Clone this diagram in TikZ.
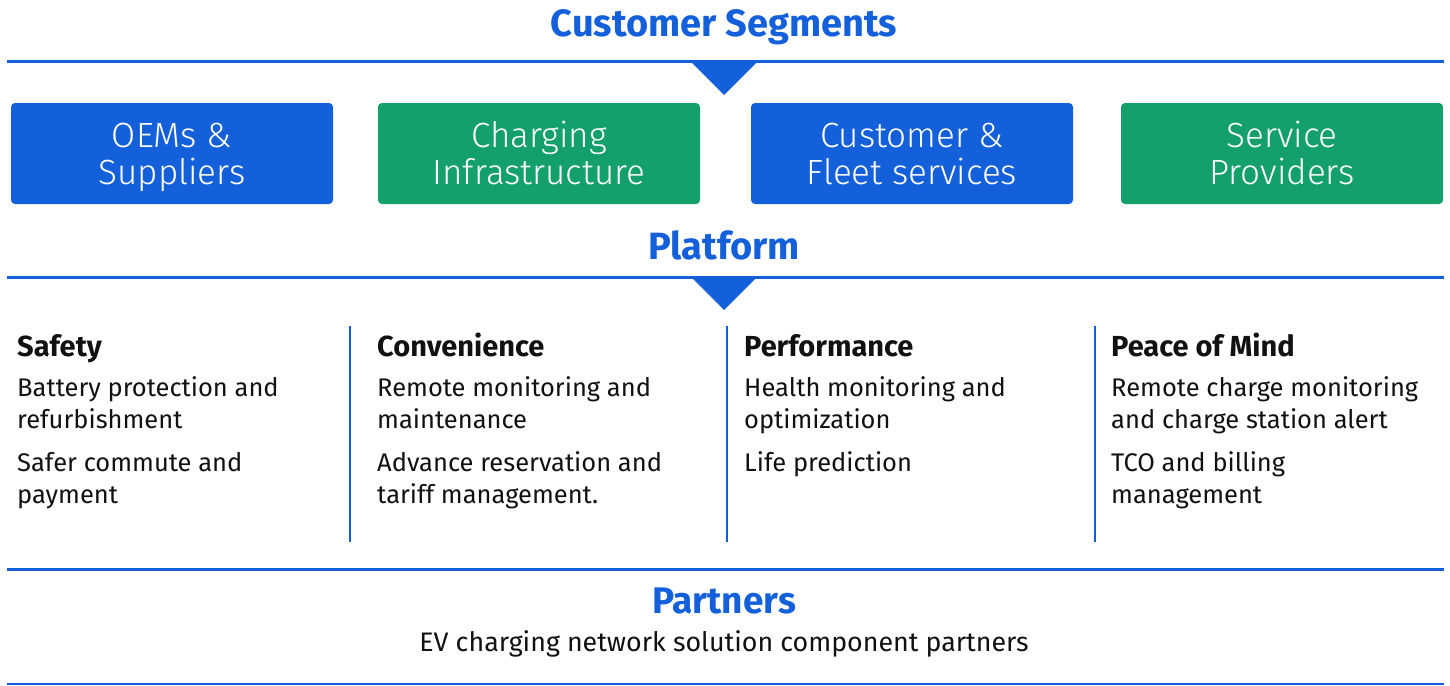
\documentclass[tikz,border=0pt]{standalone}
\usepackage{fontspec}
\setmainfont{Fira Sans}
\newfontfamily\lightfont{Fira Sans Light}
\definecolor{cblue}{HTML}{1460DB}
\definecolor{cgreen}{HTML}{13A06A}
\definecolor{ctext}{HTML}{111111}
\begin{document}
\begin{tikzpicture}[x=1pt,y=-1pt,
  title/.style={font=\bfseries\fontsize{38}{44}\selectfont, text=cblue, inner sep=0pt, anchor=base},
  rule/.style={draw=cblue, line width=3pt},
  tri/.style={fill=cblue},
  seg/.style={rounded corners=4pt, minimum width=322pt, minimum height=101pt, inner sep=0pt},
  bluebox/.style={seg, fill=cblue},
  greenbox/.style={seg, fill=cgreen},
  segtext/.style={text=white, align=center, font=\lightfont\fontsize{35}{37}\selectfont, inner sep=0pt, anchor=base},
  colhead/.style={font=\bfseries\fontsize{29}{32}\selectfont, text=ctext, inner sep=0pt, anchor=base west},
  item/.style={font=\fontsize{25.5}{32}\selectfont, text=ctext, inner sep=0pt, anchor=base west, align=left},
  sep/.style={draw=cblue, line width=2.2pt}
]
\useasboundingbox (0,0) rectangle (1450,685);

% Customer Segments
\node[title] (cs) at (724,37) {Customer Segments};
\draw[rule] (7,62) -- (1444,62);
\fill[tri] (690,61) -- (758,61) -- (724,95) -- cycle;

\node[bluebox]  (oem)  at (172,153.5) {};
\node[greenbox] (chg)  at (539,153.5) {};
\node[bluebox]  (cfs)  at (912,153.5) {};
\node[greenbox] (sp)   at (1282,153.5) {};
\node[segtext] (oemt) at (172,184) {OEMs \&\\Suppliers};
\node[segtext] (chgt) at (539,184) {Charging\\Infrastructure};
\node[segtext] (cfst) at (912,184) {Customer \&\\Fleet services};
\node[segtext] (spt)  at (1282,184) {Service\\Providers};

% Platform
\node[title] (pf) at (724,259) {Platform};
\draw[rule] (7,277) -- (1444,277);
\fill[tri] (690,276) -- (758,276) -- (724,310) -- cycle;

\draw[sep] (350,326) -- (350,542);
\draw[sep] (727,326) -- (727,542);
\draw[sep] (1095,326) -- (1095,542);

\node[colhead] (h1) at (17,356) {Safety};
\node[item] (a1) at (17,428) {Battery protection and\\refurbishment};
\node[item] (b1) at (17,503) {Safer commute and\\payment};

\node[colhead] (h2) at (377,356) {Convenience};
\node[item] (a2) at (377,428) {Remote monitoring and\\maintenance};
\node[item] (b2) at (377,503) {Advance reservation and\\tariff management.};

\node[colhead] (h3) at (744,356) {Performance};
\node[item] (a3) at (744,428) {Health monitoring and\\optimization};
\node[item] (b3) at (744,471) {Life prediction};

\node[colhead] (h4) at (1111,356) {Peace of Mind};
\node[item] (a4) at (1111,428) {Remote charge monitoring\\and charge station alert};
\node[item] (b4) at (1111,503) {TCO and billing\\management};

% Partners
\draw[rule] (7,569) -- (1444,569);
\node[title, font=\bfseries\fontsize{37}{44}\selectfont] (pt) at (724,613) {Partners};
\node[item, anchor=base, font=\fontsize{26.8}{32}\selectfont] (ev) at (724,651) {EV charging network solution component partners};
\draw[draw=cblue, line width=2pt] (7,684) -- (1444,684);
\end{tikzpicture}
\end{document}
